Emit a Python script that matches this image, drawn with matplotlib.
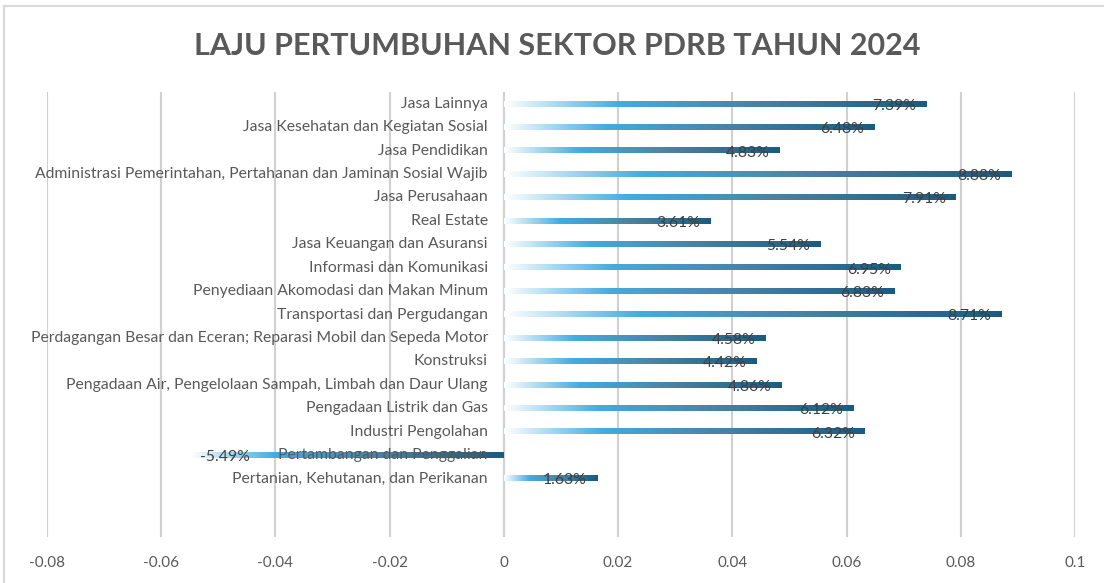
import numpy as np
import matplotlib
matplotlib.use("Agg")
import matplotlib.pyplot as plt
from matplotlib.colors import LinearSegmentedColormap
from matplotlib import transforms

# data, bottom to top
sectors = [
    "Pertanian, Kehutanan, dan Perikanan",
    "Pertambangan dan Penggalian",
    "Industri Pengolahan",
    "Pengadaan Listrik dan Gas",
    "Pengadaan Air, Pengelolaan Sampah, Limbah dan Daur Ulang",
    "Konstruksi",
    "Perdagangan Besar dan Eceran; Reparasi Mobil dan Sepeda Motor",
    "Transportasi dan Pergudangan",
    "Penyediaan Akomodasi dan Makan Minum",
    "Informasi dan Komunikasi",
    "Jasa Keuangan dan Asuransi",
    "Real Estate",
    "Jasa Perusahaan",
    "Administrasi Pemerintahan, Pertahanan dan Jaminan Sosial Wajib",
    "Jasa Pendidikan",
    "Jasa Kesehatan dan Kegiatan Sosial",
    "Jasa Lainnya",
]
growth = [0.0163, -0.0549, 0.0632, 0.0612, 0.0486, 0.0442, 0.0458, 0.0871,
          0.0683, 0.0695, 0.0554, 0.0361, 0.0791, 0.0888, 0.0483, 0.0648, 0.0739]
x_ticks = [-0.08, -0.06, -0.04, -0.02, 0, 0.02, 0.04, 0.06, 0.08, 0.1]
x_tick_labels = ["-0.08", "-0.06", "-0.04", "-0.02", "0", "0.02", "0.04", "0.06", "0.08", "0.1"]

font = ["Lato", "DejaVu Sans"]
grey = "#595959"

grad = LinearSegmentedColormap.from_list(
    "bar_grad",
    [(0.0, "#ffffff"), (0.27, "#44ace0"), (0.6, "#4a82a3"), (1.0, "#1a5c80")])

fig = plt.figure(figsize=(11.04, 5.83), dpi=100)
ax = fig.add_axes([47 / 1104, 1 - 537 / 583, 1028 / 1104, 445 / 583])

n_blank = 2
bar_h = 0.24
ramp = np.linspace(0, 1, 256).reshape(1, -1)

for i, (name, val) in enumerate(zip(sectors, growth)):
    y = i + n_blank
    left, right = min(0, val), max(0, val)
    ax.imshow(ramp, cmap=grad, aspect="auto", interpolation="bilinear",
              extent=[left, right, y - bar_h / 2, y + bar_h / 2], zorder=2)
    # category label next to the zero line
    off = transforms.offset_copy(ax.transData, fig=fig, x=-16, y=0, units="dots")
    ax.text(0, y, name, transform=off, ha="right", va="center",
            fontsize=11.3, color=grey, family=font, zorder=4)
    # value label, inside end of the bar
    if val >= 0:
        off_v = transforms.offset_copy(ax.transData, fig=fig, x=-10, y=-2, units="dots")
        ax.text(val, y, "%.2f%%" % (val * 100), transform=off_v, ha="right", va="center",
                fontsize=11.3, color="#404040", family=font, zorder=5)
    else:
        off_v = transforms.offset_copy(ax.transData, fig=fig, x=10, y=-2, units="dots")
        ax.text(val, y, "%.2f%%" % (val * 100), transform=off_v, ha="left", va="center",
                fontsize=11.3, color="#404040", family=font, zorder=5)

ax.set_xlim(-0.08, 0.1)
ax.set_ylim(-0.5, len(sectors) + n_blank - 0.5)
ax.set_xticks(x_ticks)
ax.set_xticklabels(x_tick_labels, fontsize=11, color=grey, family=font)
ax.set_yticks([])
ax.tick_params(axis="x", length=0, pad=14)
ax.xaxis.grid(True, color="#d0d0d0", linewidth=1.5, zorder=0)
ax.set_axisbelow(True)
for s in ax.spines.values():
    s.set_visible(False)

fig.text(557 / 1104, 1 - 46 / 583, "LAJU PERTUMBUHAN SEKTOR PDRB TAHUN 2024",
         ha="center", va="center", fontsize=22, fontweight="bold", color=grey,
         family=font)

# chart border (top and left visible)
fig.add_artist(plt.Line2D([4 / 1104, 1], [1 - 6 / 583, 1 - 6 / 583],
                          transform=fig.transFigure, color="#d9d9d9", linewidth=1.5))
fig.add_artist(plt.Line2D([4 / 1104, 4 / 1104], [0, 1 - 6 / 583],
                          transform=fig.transFigure, color="#d9d9d9", linewidth=1.5))

fig.savefig("out.png", dpi=100)
